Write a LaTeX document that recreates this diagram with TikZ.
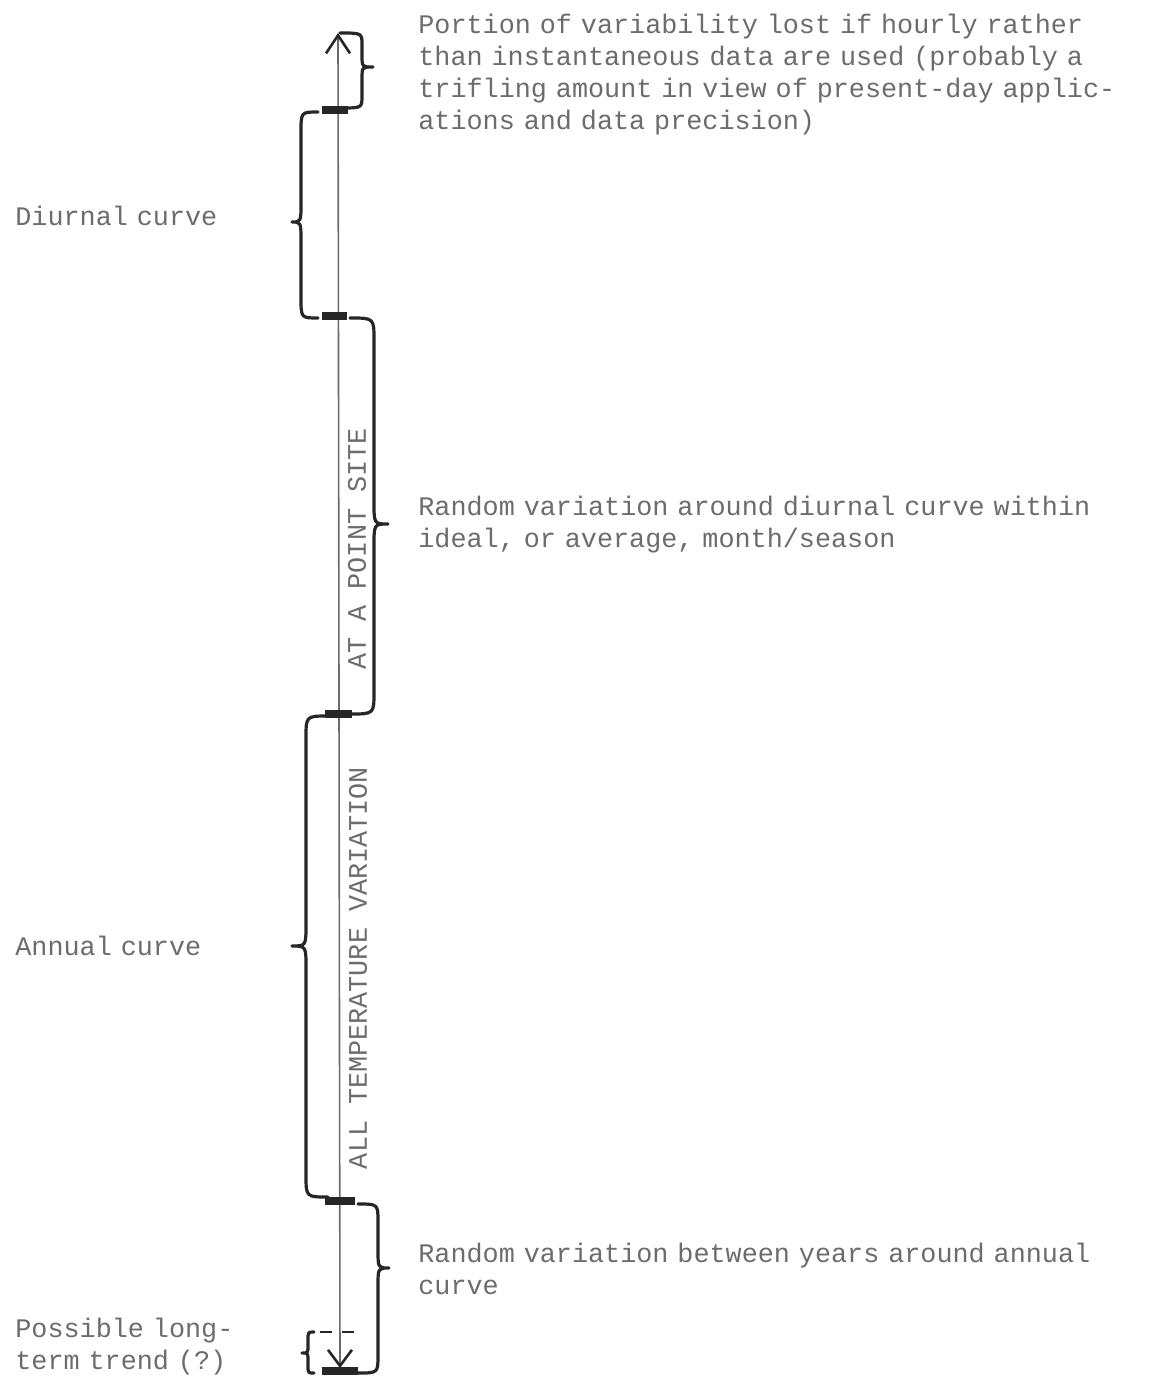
\documentclass[tikz,border=0pt]{standalone}
\usepackage{fontspec}
\newfontfamily\typew{Liberation Mono}
\usetikzlibrary{arrows.meta}
\definecolor{ink}{HTML}{6C6C6C}
\definecolor{dark}{HTML}{262626}
\definecolor{axisgray}{HTML}{6A6A6A}
\tikzset{
  txt/.style={font=\typew\fontsize{13.4}{16}\selectfont, text=ink, inner sep=0pt, anchor=base west, align=left, text width=380pt},
  vtxt/.style={font=\typew\fontsize{13.4}{16}\selectfont, text=ink, inner sep=0pt, anchor=center, rotate=90},
  bracestyle/.style={draw=dark, line width=1.6pt, line cap=round, line join=round},
  tickbar/.style={draw=dark, line width=3.6pt},
  axisline/.style={draw=axisgray, line width=0.8pt,
    {Straight Barb[length=9pt,width=12pt,color=dark,line width=1.3pt]}-{Straight Barb[length=8pt,width=12pt,color=dark,line width=1.3pt]}}
}
% #1 base x, #2 body x, #3 tip x, #4 top y, #5 tip y, #6 bottom y, #7 radius
\newcommand\mybrc[7]{%
  \draw[bracestyle] (#1,#4) .. controls (#2,#4) .. (#2,{#4+#7}) -- (#2,{#5-#7})
    .. controls (#2,#5) .. (#3,#5) .. controls (#2,#5) .. (#2,{#5+#7})
    -- (#2,{#6-#7}) .. controls (#2,#6) .. (#1,#6);}
\begin{document}
\begin{tikzpicture}[x=0.5pt,y=-0.5pt]
\useasboundingbox (0,0) rectangle (1172,1382);

% axis
\coordinate (axtop) at (338,33);
\coordinate (axbot) at (340,1368);
\draw[axisline] (axtop) -- (axbot);

% tick bars
\draw[tickbar] (322,110) -- (348,110);
\draw[tickbar] (322,316) -- (347,316);
\draw[tickbar] (325,714) -- (352,714);
\draw[tickbar] (325,1201) -- (355,1201);
\draw[tickbar] (322,1371) -- (358,1371);
\draw[draw=dark, line width=1.4pt, dash pattern=on 6pt off 5pt] (320,1332) -- (356,1332);

% braces
\mybrc{340}{362}{373}{33}{67}{108}{12}
\mybrc{318}{301}{292}{112}{222}{318}{20}
\mybrc{350}{374}{388}{318}{524}{714}{22}
\mybrc{328}{306}{292}{716}{946}{1197}{22}
\mybrc{358}{378}{389}{1204}{1268}{1373}{18}
\mybrc{314}{308}{302}{1332}{1353}{1373}{8}

% vertical labels
\node[vtxt] (pointsite) at (357,549) {AT A POINT SITE};
\node[vtxt] (alltemp) at (358,968) {ALL TEMPERATURE VARIATION};

% text labels
\node[txt] (portion) at (418,33) {Portion of variability lost if hourly rather\\than instantaneous data are used (probably a\\trifling amount in view of present-day applic-\\ations and data precision)};
\node[txt] (diurnal) at (15,225) {Diurnal curve};
\node[txt] (randdiurnal) at (418,515) {Random variation around diurnal curve within\\ideal, or average, month/season};
\node[txt] (annual) at (15,955) {Annual curve};
\node[txt] (randyears) at (418,1262) {Random variation between years around annual\\curve};
\node[txt] (trend) at (15,1337) {Possible long-\\term trend (?)};
\end{tikzpicture}
\end{document}
